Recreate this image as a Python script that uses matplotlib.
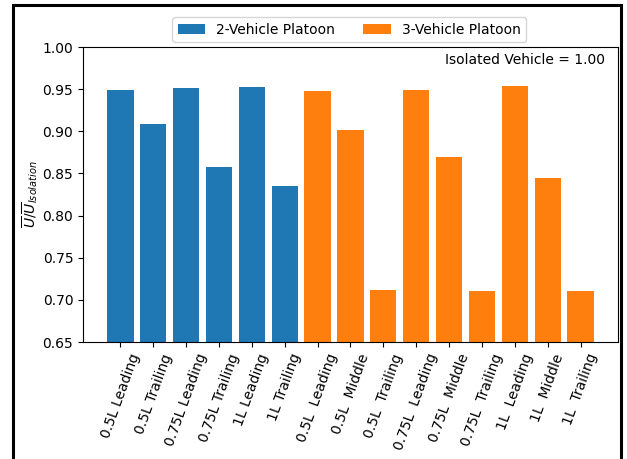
import matplotlib
matplotlib.use("Agg")
import matplotlib.pyplot as plt
from matplotlib.patches import Rectangle

labels_2 = ["0.5L Leading", "0.5L Trailing", "0.75L Leading",
            "0.75L Trailing", "1L Leading", "1L Trailing"]
values_2 = [0.949, 0.909, 0.951, 0.858, 0.953, 0.835]

labels_3 = ["0.5L  Leading", "0.5L  Middle", "0.5L  Trailing",
            "0.75L  Leading", "0.75L  Middle", "0.75L  Trailing",
            "1L  Leading", "1L  Middle", "1L  Trailing"]
values_3 = [0.948, 0.902, 0.712, 0.949, 0.870, 0.711, 0.954, 0.845, 0.711]

fig = plt.figure(figsize=(6.27, 4.59), dpi=100)
ax = fig.add_axes([0.1324, 0.2549, 0.8532, 0.6427])

x2 = list(range(len(values_2)))
x3 = list(range(len(values_2), len(values_2) + len(values_3)))
ax.bar(x2, values_2, width=0.8, color="C0", label="2-Vehicle Platoon")
ax.bar(x3, values_3, width=0.8, color="C1", label="3-Vehicle Platoon")

ax.set_ylim(0.65, 1.00)
ax.set_yticks([0.65, 0.70, 0.75, 0.80, 0.85, 0.90, 0.95, 1.00])
ax.set_xticks(x2 + x3)
ax.set_xticklabels(labels_2 + labels_3, rotation=70)
ax.set_ylabel(r"$\overline{U}/\overline{U}_{Isolation}$", labelpad=2)

ax.text(0.976, 0.956, "Isolated Vehicle = 1.00", transform=ax.transAxes,
        ha="right", va="center", fontsize=10)

fig.legend(loc="upper center", bbox_to_anchor=(0.557, 0.978), ncol=2)

# black frame around the figure (bottom edge cut off in the original)
fig.patches.append(Rectangle((0.0207, -0.2), 0.9693, 1.189, transform=fig.transFigure,
                             fill=False, edgecolor="black", linewidth=2.2))

fig.savefig("out.png", dpi=100)
